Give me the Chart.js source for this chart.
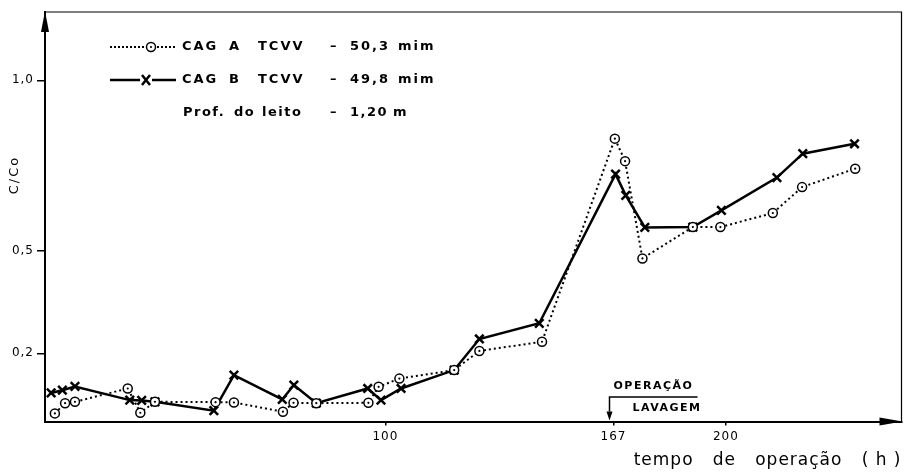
<!DOCTYPE html>
<html>
<head>
<meta charset="utf-8">
<script src="https://cdn.jsdelivr.net/npm/chart.js@4.4.1/dist/chart.umd.min.js"></script>
<style>
html, body { margin: 0; padding: 0; background: #fff; }
#wrap { width: 910px; height: 472px; }
</style>
</head>
<body>
<div id="wrap"><canvas id="chart" width="910" height="472"></canvas></div>
<script>
"use strict";

// CAG A - TCVV 50,3 min (dotted, circles)
var hoursA = [2.9, 5.9, 8.8, 24.3, 28.0, 32.3, 50.1, 55.5, 69.9, 73.0, 79.7, 95.0, 98.0, 104.1, 120.2, 127.6, 146.0, 167.4, 170.4, 175.5, 190.3, 198.4, 213.8, 222.4, 238.0];
var cagA = [0.024, 0.054, 0.058, 0.097, 0.026, 0.058, 0.057, 0.056, 0.029, 0.055, 0.054, 0.055, 0.102, 0.126, 0.151, 0.207, 0.234, 0.829, 0.763, 0.478, 0.570, 0.570, 0.611, 0.687, 0.741];

// CAG B - TCVV 49,8 min (solid, crosses)
var hoursB = [1.8, 5.1, 8.8, 24.9, 28.4, 32.3, 49.6, 55.5, 69.7, 73.1, 79.7, 94.8, 98.7, 104.6, 120.2, 127.6, 145.2, 167.6, 170.6, 176.2, 190.3, 198.7, 215.0, 222.6, 237.8];
var cagB = [0.084, 0.092, 0.103, 0.063, 0.062, 0.058, 0.032, 0.136, 0.065, 0.107, 0.054, 0.097, 0.063, 0.097, 0.151, 0.242, 0.288, 0.725, 0.663, 0.569, 0.570, 0.619, 0.715, 0.785, 0.814];

var xTicks = [100, 167, 200];
var yTicks = [0.2, 0.5, 1.0];
var washHour = 167;

var legendRows = [
	["CAG", "A", "TCVV", "\u2013", "50,3", "mim"],
	["CAG", "B", "TCVV", "\u2013", "49,8", "mim"]
];
var depthText = ["Prof.", "do", "leito", "\u2013", "1,20", "m"];

function toPoints(xs, ys) {
	return xs.map(function(x, i) { return { x: x, y: ys[i] }; });
}

var spacingPlugin = {
	id: "spacing",
	beforeDraw: function(chart) {
		chart.ctx.letterSpacing = "1px";
	}
};

var drawingPlugin = {
	id: "drawing",
	afterDatasetsDraw: function(chart) {
		var ctx = chart.ctx;
		var area = chart.chartArea;
		var xs = chart.scales.x;

		// little dot in each circle of series A
		var meta = chart.getDatasetMeta(0);
		ctx.save();
		ctx.fillStyle = "#000";
		meta.data.forEach(function(pt) {
			ctx.beginPath();
			ctx.arc(pt.x, pt.y, 1.1, 0, Math.PI * 2);
			ctx.fill();
		});
		ctx.restore();

		ctx.save();
		ctx.strokeStyle = "#000";
		ctx.fillStyle = "#000";

		// frame top and right
		ctx.lineWidth = 1.2;
		ctx.beginPath();
		ctx.moveTo(area.left, area.top);
		ctx.lineTo(area.right, area.top);
		ctx.lineTo(area.right, area.bottom);
		ctx.stroke();

		// arrow heads
		ctx.beginPath();
		ctx.moveTo(area.left, area.top - 1);
		ctx.lineTo(area.left - 4, area.top + 20);
		ctx.lineTo(area.left + 4, area.top + 20);
		ctx.closePath();
		ctx.fill();
		ctx.beginPath();
		ctx.moveTo(area.right + 1, area.bottom);
		ctx.lineTo(area.right - 22, area.bottom - 4);
		ctx.lineTo(area.right - 22, area.bottom + 4);
		ctx.closePath();
		ctx.fill();

		// y title
		ctx.save();
		ctx.translate(15, 175);
		ctx.rotate(-Math.PI / 2);
		ctx.font = "13px 'DejaVu Sans'";
		ctx.letterSpacing = "2px";
		ctx.textAlign = "center";
		ctx.textBaseline = "middle";
		ctx.fillText("C/Co", 0, 0);
		ctx.restore();

		// legend
		var wordX = [182, 229, 258, 330, 350, 398];
		var rowY = [47, 80];
		ctx.font = "bold 13px 'DejaVu Sans'";
		ctx.letterSpacing = "2px";
		ctx.textBaseline = "middle";
		ctx.textAlign = "left";
		legendRows.forEach(function(words, r) {
			words.forEach(function(w, i) { ctx.fillText(w, wordX[i], rowY[r]); });
		});
		var depthX = [183, 234, 262, 330, 350, 393];
		ctx.letterSpacing = "1.5px";
		depthText.forEach(function(w, i) { ctx.fillText(w, depthX[i], 113); });

		// legend samples
		ctx.lineWidth = 2;
		ctx.setLineDash([2, 2]);
		ctx.beginPath();
		ctx.moveTo(110, 47); ctx.lineTo(145, 47);
		ctx.moveTo(157, 47); ctx.lineTo(175, 47);
		ctx.stroke();
		ctx.setLineDash([]);
		ctx.lineWidth = 1.5;
		ctx.fillStyle = "#fff";
		ctx.beginPath();
		ctx.arc(151, 47, 4.5, 0, Math.PI * 2);
		ctx.fill();
		ctx.stroke();
		ctx.fillStyle = "#000";
		ctx.beginPath();
		ctx.arc(151, 47, 1.1, 0, Math.PI * 2);
		ctx.fill();

		ctx.lineWidth = 2.5;
		ctx.beginPath();
		ctx.moveTo(110, 80); ctx.lineTo(140, 80);
		ctx.moveTo(152, 80); ctx.lineTo(176, 80);
		ctx.moveTo(142, 75); ctx.lineTo(150, 85);
		ctx.moveTo(150, 75); ctx.lineTo(142, 85);
		ctx.stroke();

		// washing marker
		var wx = xs.getPixelForValue(washHour) - 4;
		ctx.lineWidth = 1.5;
		ctx.beginPath();
		ctx.moveTo(wx, area.bottom - 10);
		ctx.lineTo(wx, 397);
		ctx.lineTo(wx + 88, 397);
		ctx.stroke();
		ctx.beginPath();
		ctx.moveTo(wx, area.bottom - 1);
		ctx.lineTo(wx - 3, area.bottom - 10);
		ctx.lineTo(wx + 3, area.bottom - 10);
		ctx.closePath();
		ctx.fill();
		ctx.font = "bold 11px 'DejaVu Sans'";
		ctx.letterSpacing = "1.5px";
		ctx.textAlign = "left";
		ctx.fillText("OPERAÇÃO", wx + 4, 386);
		ctx.fillText("LAVAGEM", wx + 23, 408);
		ctx.restore();
	}
};

var chart = new Chart(document.getElementById("chart"), {
	type: "scatter",
	data: {
		datasets: [
			{
				label: "CAG A",
				data: toPoints(hoursA, cagA),
				showLine: true,
				borderColor: "#000",
				borderWidth: 2,
				borderDash: [2, 3],
				pointStyle: "circle",
				pointRadius: 4.5,
				pointBorderWidth: 1.5,
				pointBackgroundColor: "#fff",
				pointBorderColor: "#000",
				clip: false
			},
			{
				label: "CAG B",
				data: toPoints(hoursB, cagB),
				showLine: true,
				borderColor: "#000",
				borderWidth: 2.5,
				pointStyle: "crossRot",
				pointRadius: 6,
				pointBorderWidth: 2.5,
				pointBorderColor: "#000",
				clip: false
			}
		]
	},
	options: {
		responsive: false,
		animation: false,
		layout: { padding: { top: 12, right: 7, left: 0, bottom: 0 } },
		plugins: {
			legend: { display: false },
			tooltip: { enabled: false }
		},
		scales: {
			x: {
				type: "linear",
				min: 0,
				max: 251.6,
				afterBuildTicks: function(scale) {
					scale.ticks = xTicks.map(function(v) { return { value: v }; });
				},
				afterFit: function(scale) { scale.height = 50.4; },
				ticks: {
					color: "#000",
					font: { family: "'DejaVu Sans'", size: 12 },
					padding: 4,
					callback: function(v) { return String(v); }
				},
				grid: { drawOnChartArea: false, color: "#000", tickLength: 4, lineWidth: 1.5 },
				border: { color: "#000", width: 2 },
				title: {
					display: true,
					text: "tempo   de   operação   ( h )",
					align: "end",
					color: "#000",
					font: { family: "'DejaVu Sans'", size: 17 },
					padding: { top: 0, bottom: 1 }
				}
			},
			y: {
				type: "linear",
				min: 0,
				max: 1.2,
				afterBuildTicks: function(scale) {
					scale.ticks = yTicks.map(function(v) { return { value: v }; });
				},
				afterFit: function(scale) { scale.width = 45; },
				ticks: {
					color: "#000",
					font: { family: "'DejaVu Sans'", size: 12 },
					padding: 3,
					callback: function(v) { return v.toFixed(1).replace(".", ","); }
				},
				grid: { drawOnChartArea: false, color: "#000", tickLength: 8, lineWidth: 1.5 },
				border: { color: "#000", width: 2 }
			}
		}
	},
	plugins: [spacingPlugin, drawingPlugin]
});
</script>
</body>
</html>
